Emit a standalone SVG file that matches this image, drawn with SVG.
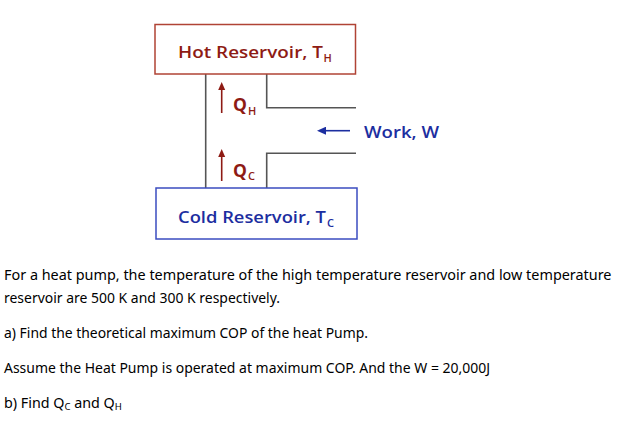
<svg xmlns="http://www.w3.org/2000/svg" width="617" height="423" viewBox="0 0 617 423">
<style>
.lbl{font-family:"Open Sans","Liberation Sans",sans-serif;font-size:16.5px;font-weight:600}
.q{font-size:17.5px;font-weight:700}
.red{fill:#8e1b14}
.blue{fill:#1c2ea0}
.sub{font-size:11px;font-weight:600}
.wire{stroke:#555;stroke-width:1.6;fill:none}
.body{font-family:"Noto Sans","Liberation Sans",sans-serif;font-size:14.3px;fill:#000}
.bsub{font-size:9.5px}
</style>
<defs>
<marker id="ahr" markerWidth="8" markerHeight="8" refX="4" refY="4" orient="auto" markerUnits="userSpaceOnUse"><path d="M0,0.5 L8,4 L0,7.5 Z" fill="#8e1b14"/></marker>
<marker id="ahb" markerWidth="9" markerHeight="8" refX="4" refY="4" orient="auto" markerUnits="userSpaceOnUse"><path d="M0,0 L9,4 L0,8 Z" fill="#1c2ea0"/></marker>
</defs>
<rect width="617" height="423" fill="#fff"/>
<g id="connectors">
<path class="wire" d="M205.7,74 V188"/>
<path class="wire" d="M266.7,74 V107.7 H356"/>
<path class="wire" d="M266.7,188 V153.3 H356"/>
<line x1="221.7" y1="113" x2="221.7" y2="86" stroke="#8e1b14" stroke-width="1.6" marker-end="url(#ahr)"/>
<line x1="221.7" y1="181" x2="221.7" y2="153" stroke="#8e1b14" stroke-width="1.6" marker-end="url(#ahr)"/>
<line x1="350" y1="130.7" x2="322" y2="130.7" stroke="#1c2ea0" stroke-width="1.6" marker-end="url(#ahb)"/>
</g>
<g id="hot">
<rect x="155" y="24.5" width="200.5" height="49.5" fill="#fff" stroke="#b04335" stroke-width="1.5"/>
<text class="lbl red" x="178" y="58" textLength="145" lengthAdjust="spacingAndGlyphs">Hot Reservoir, T</text>
<text class="lbl red sub" x="323.5" y="62">H</text>
</g>
<g id="cold">
<rect x="156" y="188" width="201" height="51" fill="#fff" stroke="#3b4cc0" stroke-width="1.5"/>
<text class="lbl blue" x="178" y="223" textLength="148" lengthAdjust="spacingAndGlyphs">Cold Reservoir, T</text>
<text class="lbl blue sub" x="327" y="227">C</text>
</g>
<g id="qh">
<text class="lbl q red" x="233" y="110.5">Q</text>
<text class="lbl red sub" x="248" y="115">H</text>
</g>
<g id="qc">
<text class="lbl q red" x="233" y="176.5">Q</text>
<text class="lbl red sub" x="248" y="180">C</text>
</g>
<g id="work">
<text class="lbl blue" x="364" y="138" textLength="75" lengthAdjust="spacingAndGlyphs">Work, W</text>
</g>
<g id="problem">
<text class="body" x="4" y="280" textLength="607.5" lengthAdjust="spacingAndGlyphs">For a heat pump, the temperature of the high temperature reservoir and low temperature</text>
<text class="body" x="4" y="302.7" textLength="276" lengthAdjust="spacingAndGlyphs">reservoir are 500 K and 300 K respectively.</text>
<text class="body" x="4" y="338" textLength="364" lengthAdjust="spacingAndGlyphs">a) Find the theoretical maximum COP of the heat Pump.</text>
<text class="body" x="4" y="373" textLength="486" lengthAdjust="spacingAndGlyphs">Assume the Heat Pump is operated at maximum COP. And the W = 20,000J</text>
<text class="body" x="4" y="408">b) Find Q<tspan class="bsub" dy="2">C</tspan><tspan dy="-2"> and Q</tspan><tspan class="bsub" dy="2">H</tspan></text>
</g>
</svg>
